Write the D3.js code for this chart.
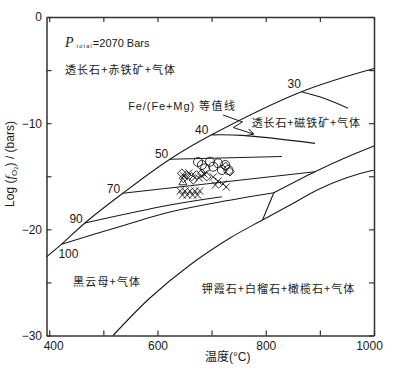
<!DOCTYPE html>
<html>
<head>
<meta charset="utf-8">
<script src="https://cdn.jsdelivr.net/npm/d3@7"></script>
<style>
  body { margin: 0; background: #fff; }
  svg { display: block; font-family: "Liberation Sans", Arial, sans-serif; }
  .cn { font-family: "Noto Sans CJK SC", "Liberation Sans", sans-serif; }
</style>
</head>
<body>
<svg id="chart" width="400" height="373"></svg>
<script>

// T (°C), log fO2 (bars)
const boundary = [[395, -22.6], [423, -21.4], [466, -19.4], [536, -16.6], [623, -13.4], [700, -11.1], [866, -7.04], [1000, -4.85]]

// Fe/(Fe+Mg) isopleths
const iso100 = [[423, -21.4], [531, -19.73], [623, -18.37], [715, -17.42], [815, -16.55]]
const iso90 = [[466, -19.4], [623, -17.71], [719, -16.93]]
const iso70 = [[536, -16.6], [891, -14.57]]
const iso50 = [[623, -13.4], [830, -13.14]]
const iso40 = [[700, -11.1], [757, -11.15], [891, -11.9]]
const iso30 = [[866, -7.04], [909, -7.68], [952, -8.6]]

// phase boundaries on the right
const upperCurve = [[815, -16.55], [891, -14.57], [946, -13.28], [1000, -12.15]]
const joinLine = [[815, -16.55], [794, -19.12]]
const lowerCurve = [[518, -30], [586, -26.47], [660, -23.36], [734, -20.82], [794, -19.12], [845, -17.71], [895, -16.29], [948, -15.16], [1000, -14.41]]

// samples
const circlePts = [[675, -13.66], [682, -13.94], [697, -13.63], [688, -14.25], [703, -14.1], [712, -13.78], [725, -13.94], [731, -14.41], [719, -14.41]]
const diamondPts = [[645, -14.72], [654, -14.88], [663, -15.04], [672, -14.88], [682, -14.72], [691, -15.04], [648, -15.19], [666, -15.35], [734, -14.57], [726, -14.08]]
const crossPts = [[649, -14.98], [658, -14.69], [677, -15.16], [686, -14.79],
  [703, -15.07], [712, -15.45], [721, -15.73], [707, -15.82], [727, -16.01],
  [642, -16.39], [651, -16.39], [660, -16.39], [669, -16.39], [678, -16.39],
  [646, -16.77], [655, -16.77], [665, -16.77], [674, -16.77]]
const trianglePts = [[647, -15.54]]

const isoLabels = [
  {text: "100", t: 417, f: -22.73, anchor: "start"},
  {text: "90", t: 462, f: -19.38, anchor: "end"},
  {text: "70", t: 531, f: -16.61, anchor: "end"},
  {text: "50", t: 620, f: -13.31, anchor: "end"},
  {text: "40", t: 694, f: -11.02, anchor: "end"},
  {text: "30", t: 865, f: -6.72, anchor: "end"}
]

const fieldLabels = [
  {text: "透长石+赤铁矿+气体", t: 429, f: -5.4, ls: 1.1},
  {text: "透长石+磁铁矿+气体", t: 774, f: -10.4, ls: 0.9},
  {text: "黑云母+气体", t: 444, f: -25.34, ls: 1.2},
  {text: "钾霞石+白榴石+橄榄石+气体", t: 682, f: -25.95, ls: 1}
]

const leader = [[721, -9.23], [757, -9.89], [740, -10.41], [777, -11.02]]

const svg = d3.select("#chart")

const x = d3.scaleLinear().domain([395, 1000]).range([46.5, 374])
const y = d3.scaleLinear().domain([-30, 0]).range([335.5, 17])

const ink = "#1a1a1a"

svg.append("defs").append("marker")
  .attr("id", "arrow")
  .attr("viewBox", "0 0 10 10")
  .attr("refX", 9).attr("refY", 5)
  .attr("markerWidth", 7).attr("markerHeight", 7)
  .attr("markerUnits", "userSpaceOnUse")
  .attr("orient", "auto")
  .append("path")
  .attr("d", "M0,0 L10,5 L0,10")
  .attr("fill", "none")
  .attr("stroke", ink)
  .attr("stroke-width", 1.3)

// axes
const xTicks = d3.range(400, 1001, 100)
const yTicks = d3.range(-30, 1, 5)
const fmt = d3.format("d")

const bottom = svg.append("g").attr("transform", "translate(0," + y(-30) + ")")
  .call(d3.axisBottom(x).tickValues(xTicks).tickSize(-5).tickSizeOuter(0).tickPadding(6)
    .tickFormat(d => d % 200 === 0 ? d : ""))
bottom.selectAll("text").filter(d => d === 400).attr("dx", 4)
bottom.selectAll("text").filter(d => d === 1000).attr("dx", -5)

svg.append("g").attr("transform", "translate(0," + y(0) + ")")
  .call(d3.axisTop(x).tickValues(xTicks).tickSize(-5).tickSizeOuter(0).tickFormat(""))

svg.append("g").attr("transform", "translate(" + x(395) + ",0)")
  .call(d3.axisLeft(y).tickValues(yTicks).tickSize(-5).tickSizeOuter(0).tickPadding(4.5)
    .tickFormat(d => d % 10 === 0 ? fmt(d) : ""))

svg.append("g").attr("transform", "translate(" + x(1000) + ",0)")
  .call(d3.axisRight(y).tickValues(yTicks).tickSize(-5).tickSizeOuter(0).tickFormat(""))

svg.selectAll(".domain").attr("stroke", "#333").attr("stroke-width", 1.5)
svg.selectAll(".tick line").attr("stroke", "#333").attr("stroke-width", 1.2)
svg.selectAll(".tick text").attr("font-size", 12).attr("fill", ink)
  .attr("font-family", "'Liberation Sans', Arial, sans-serif")

// curves
const line = d3.line().x(d => x(d[0])).y(d => y(d[1])).curve(d3.curveCatmullRom.alpha(0.5))

const curves = [boundary, iso100, iso90, iso70, iso50, iso40, iso30, upperCurve, joinLine, lowerCurve]
svg.append("g").selectAll("path")
  .data(curves)
  .enter().append("path")
  .attr("d", line)
  .attr("fill", "none")
  .attr("stroke", ink)
  .attr("stroke-width", 1.1)

svg.append("path")
  .attr("d", d3.line().x(d => x(d[0])).y(d => y(d[1]))(leader))
  .attr("fill", "none")
  .attr("stroke", ink)
  .attr("stroke-width", 1)
  .attr("marker-end", "url(#arrow)")

// sample markers
const marks = svg.append("g").attr("fill", "none").attr("stroke", ink).attr("stroke-width", 0.9)

marks.selectAll(".dia")
  .data(diamondPts)
  .enter().append("path")
  .attr("class", "dia")
  .attr("d", d => {
    const cx = x(d[0]), cy = y(d[1]), s = 4.3
    return `M${cx},${cy - s}L${cx + s},${cy}L${cx},${cy + s}L${cx - s},${cy}Z`
  })

marks.selectAll(".crs")
  .data(crossPts)
  .enter().append("path")
  .attr("class", "crs")
  .attr("d", d => {
    const cx = x(d[0]), cy = y(d[1]), s = 3.6
    return `M${cx - s},${cy - s}L${cx + s},${cy + s}M${cx - s},${cy + s}L${cx + s},${cy - s}`
  })

marks.selectAll(".tri")
  .data(trianglePts)
  .enter().append("path")
  .attr("class", "tri")
  .attr("d", d => {
    const cx = x(d[0]), cy = y(d[1]), s = 4
    return `M${cx},${cy - s}L${cx + s},${cy + s * 0.7}L${cx - s},${cy + s * 0.7}Z`
  })

marks.selectAll("circle")
  .data(circlePts)
  .enter().append("circle")
  .attr("cx", d => x(d[0]))
  .attr("cy", d => y(d[1]))
  .attr("r", 4.5)

// isopleth numbers
svg.append("g").selectAll("text")
  .data(isoLabels)
  .enter().append("text")
  .attr("x", d => x(d.t))
  .attr("y", d => y(d.f))
  .attr("text-anchor", d => d.anchor)
  .attr("font-size", 12)
  .attr("fill", ink)
  .text(d => d.text)

// field names
svg.append("g").selectAll("text")
  .data(fieldLabels)
  .enter().append("text")
  .attr("class", "cn")
  .attr("x", d => x(d.t))
  .attr("y", d => y(d.f))
  .attr("font-size", 11)
  .attr("letter-spacing", d => d.ls)
  .attr("fill", ink)
  .text(d => d.text)

// Fe/(Fe+Mg) label
const iso = svg.append("text")
  .attr("x", x(546))
  .attr("y", y(-8.76))
  .attr("font-size", 11)
  .attr("fill", ink)
iso.append("tspan").attr("letter-spacing", 0.9).text("Fe/(Fe+Mg) ")
iso.append("tspan").attr("class", "cn").attr("letter-spacing", 1.5).text("等值线")

// pressure note
const pt = svg.append("text")
  .attr("x", x(429))
  .attr("y", y(-2.8))
  .attr("fill", ink)
pt.append("tspan").attr("font-family", "'Liberation Serif', serif").attr("font-style", "italic")
  .attr("font-size", 14).text("P")
pt.append("tspan").attr("font-size", 5.5).attr("dx", 3).attr("dy", 1.5).attr("letter-spacing", 1.2).text("total")
pt.append("tspan").attr("font-size", 11).attr("dy", -1.5).attr("dx", 0).text("=2070 Bars")

// axis titles
const yt = svg.append("text")
  .attr("transform", "translate(14,164) rotate(-90)")
  .attr("text-anchor", "middle")
  .attr("font-size", 12)
  .attr("fill", ink)
yt.append("tspan").text("Log (")
yt.append("tspan").attr("font-family", "'Liberation Serif', serif").attr("font-style", "italic")
  .attr("font-size", 13).text("f")
yt.append("tspan").attr("font-size", 8).attr("dy", 3).text("O")
yt.append("tspan").attr("font-size", 6).attr("dy", 1).text("2")
yt.append("tspan").attr("dy", -4).text(") / (bars)")

const xt = svg.append("text")
  .attr("x", 205)
  .attr("y", 361)
  .attr("font-size", 12)
  .attr("fill", ink)
xt.append("tspan").attr("class", "cn").text("温度")
xt.append("tspan").text("(°C)")

</script>
</body>
</html>
